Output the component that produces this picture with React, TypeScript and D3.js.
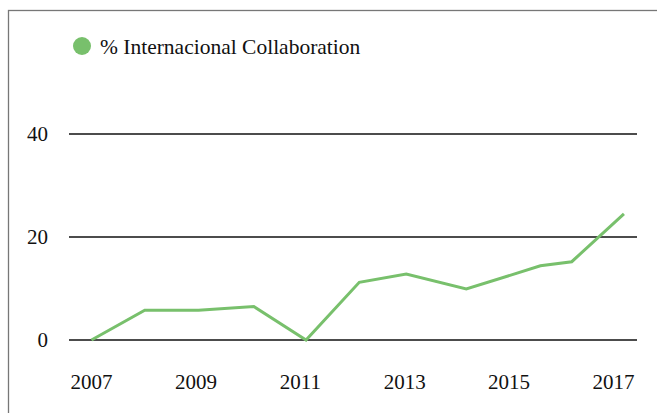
import * as d3 from "d3";
import { useEffect, useRef } from "react";

// positions on the time axis (fractional years)
const years = [2007, 2008.02, 2009.05, 2010.11, 2011.11, 2012.13, 2013.03, 2014.18, 2015.6, 2016.2, 2017.2];
const collab = [0, 5.8, 5.8, 6.5, 0, 11.2, 12.8, 9.9, 14.4, 15.2, 24.5];
const xTicks = [2007, 2009, 2011, 2013, 2015, 2017];
const yTicks = [0, 20, 40];
const seriesName = "% Internacional Collaboration";

const green = "#78c06c";
const font = "'Liberation Serif', 'DejaVu Serif', serif";

const App = () => {
  const ref = useRef<SVGSVGElement>(null);
  const width = 657;
  const height = 413;

  useEffect(() => {
    const svg = d3.select(ref.current);
    svg.selectAll("*").remove();

    // frame (only top and left edges are visible)
    svg.append("rect")
      .attr("x", 8.5).attr("y", 10.5)
      .attr("width", 700).attr("height", 500)
      .attr("fill", "white")
      .attr("stroke", "#777").attr("stroke-width", 1.3);

    const x = d3.scaleLinear().domain([2007, 2017]).range([91.5, 613.5]);
    const y = d3.scaleLinear().domain([0, 40]).range([340, 134]);

    // gridlines
    svg.append("g")
      .selectAll("line")
      .data(yTicks)
      .enter()
      .append("line")
      .attr("x1", 69).attr("x2", 637)
      .attr("y1", d => y(d)).attr("y2", d => y(d))
      .attr("stroke", "#111").attr("stroke-width", 1.5);

    // y labels
    svg.append("g")
      .selectAll("text")
      .data(yTicks)
      .enter()
      .append("text")
      .attr("x", 48).attr("y", d => y(d) + 7)
      .attr("text-anchor", "end")
      .style("font-family", font).style("font-size", "21px")
      .attr("fill", "#111")
      .text(d => d);

    // x labels
    svg.append("g")
      .selectAll("text")
      .data(xTicks)
      .enter()
      .append("text")
      .attr("x", d => x(d)).attr("y", 389)
      .attr("text-anchor", "middle")
      .style("font-family", font).style("font-size", "21px")
      .attr("fill", "#111")
      .text(d => d);

    // line
    const line = d3.line<number>()
      .x((d, i) => x(years[i]))
      .y(d => y(d));
    svg.append("path")
      .datum(collab)
      .attr("d", line)
      .attr("fill", "none")
      .attr("stroke", green)
      .attr("stroke-width", 3);

    // legend
    svg.append("circle")
      .attr("cx", 82).attr("cy", 46).attr("r", 9)
      .attr("fill", green);
    svg.append("text")
      .attr("x", 100).attr("y", 54)
      .style("font-family", font).style("font-size", "21.5px")
      .attr("fill", "#111")
      .text(seriesName);
  }, []);

  return (
    <svg ref={ref} width={width} height={height}
      style={{ position: "absolute", left: 0, top: 0 }} />
  );
};

export default App;
